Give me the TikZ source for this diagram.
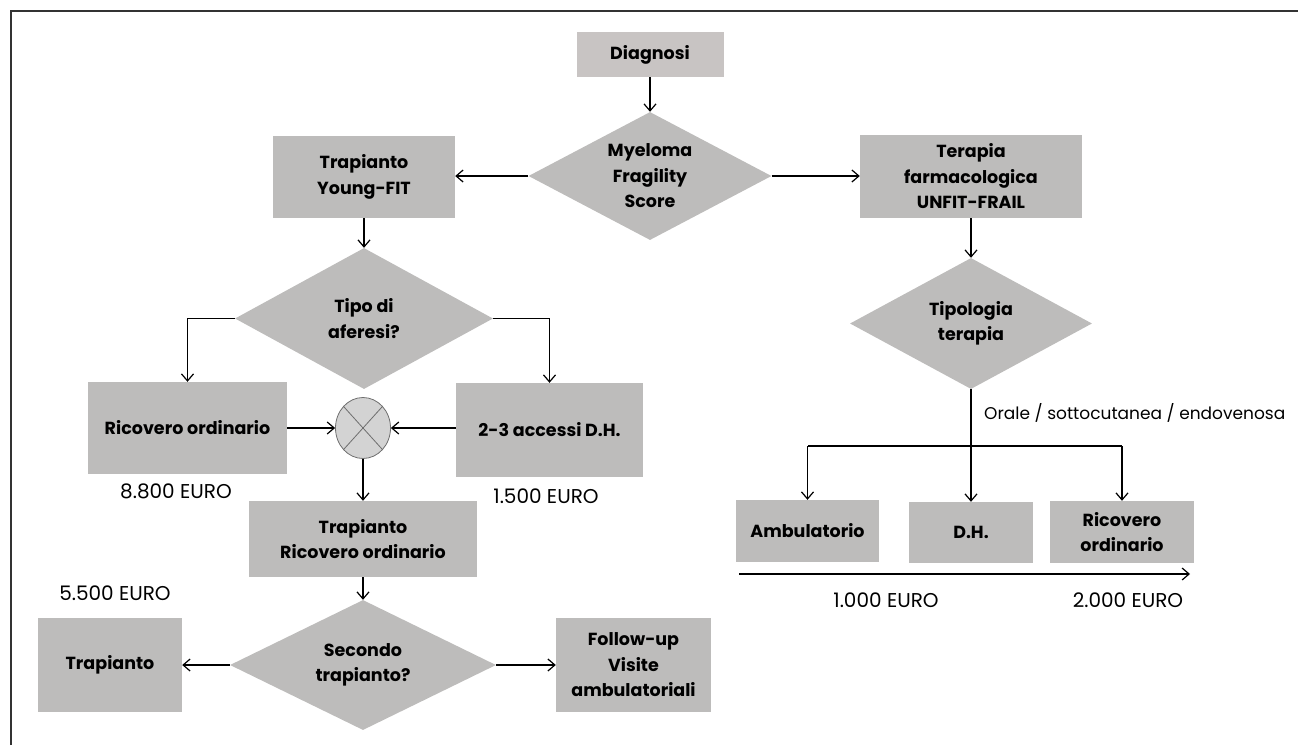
\documentclass[tikz,border=0pt]{standalone}
\usepackage{fontspec}
\setmainfont{Poppins}
\usetikzlibrary{shapes.geometric,arrows.meta}

\definecolor{boxgray}{HTML}{BDBCBB}
\definecolor{diaggray}{HTML}{C8C4C3}
\definecolor{sumgray}{HTML}{D3D3D3}
\definecolor{rimgray}{HTML}{6E6E6E}
\definecolor{framegray}{HTML}{333333}

\begin{document}
\begin{tikzpicture}[x=1pt,y=-1pt,
    >={Straight Barb[length=7pt,width=12pt]},
    flow/.style={->, line width=1.2pt},
    cost/.style={font=\fontsize{20}{24}\selectfont}]

        \useasboundingbox (0,0) rectangle (1298,745);
        \draw[framegray, line width=1.5pt] (11,745) -- (11,11) -- (1298,11);

        \begin{scope}[every node/.style={rectangle, fill=boxgray, align=center, inner sep=0pt,
            font=\bfseries\fontsize{17.5}{25.5}\selectfont}]
          \node[fill=diaggray, minimum width=147pt, minimum height=45pt] (diag) at (650,54.5) {Diagnosi};
          \node[minimum width=182pt, minimum height=82pt] (youngfit) at (364,177) {Trapianto\\Young-FIT};
          \node[minimum width=222pt, minimum height=83pt] (terapia) at (971,176.5) {Terapia\\farmacologica\\UNFIT-FRAIL};
          \node[minimum width=199pt, minimum height=92pt] (ricov1) at (187.5,428) {Ricovero ordinario};
          \node[minimum width=187pt, minimum height=94pt] (dh23) at (549.5,430) {2-3 accessi D.H.};
          \node[minimum width=228pt, minimum height=76pt] (trapro) at (363,539) {Trapianto\\Ricovero ordinario};
          \node[minimum width=144pt, minimum height=94pt] (trap) at (110,665) {Trapianto};
          \node[minimum width=155pt, minimum height=94pt] (follow) at (633.5,665) {Follow-up\\Visite\\ambulatoriali};
          \node[minimum width=143pt, minimum height=62pt] (ambul) at (807.5,531) {Ambulatorio};
          \node[minimum width=124pt, minimum height=61pt] (dh) at (971,532.5) {D.H.};
          \node[minimum width=144pt, minimum height=62pt] (ricov2) at (1122,532) {Ricovero\\ordinario};
        \end{scope}

        \begin{scope}[every node/.style={diamond, fill=boxgray, align=center, inner sep=0pt,
            font=\bfseries\fontsize{17.5}{25.5}\selectfont}]
          \node[minimum width=243pt, minimum height=128pt, aspect=1.9] (myeloma) at (650,176) {Myeloma\\Fragility\\Score};
          \node[minimum width=258pt, minimum height=141pt, aspect=1.83] (tipo) at (364,318.5) {Tipo di\\aferesi?};
          \node[minimum width=266pt, minimum height=130pt, aspect=2] (secondo) at (363,665) {Secondo\\trapianto?};
          \node[minimum width=242pt, minimum height=131pt, aspect=1.85] (tipologia) at (971,323.5) {Tipologia\\terapia};
        \end{scope}

        \node[ellipse, draw=rimgray, fill=sumgray, line width=0.8pt, minimum width=55pt,
          minimum height=61pt, inner sep=0pt] (sum) at (363,428) {};
        \draw[rimgray, line width=0.8pt] (sum.north west) -- (sum.south east)
          (sum.north east) -- (sum.south west);

        \coordinate (branch) at (971,446);
        \coordinate (axl) at (739,574);
        \coordinate (axr) at (1190,574);

        \node[font=\fontsize{17}{20}\selectfont, anchor=west, inner sep=0pt] (via) at (984,413) {Orale / sottocutanea / endovenosa};
        \node[cost] (c8800) at (176,491) {8.800 EURO};
        \node[cost] (c1500) at (546,496) {1.500 EURO};
        \node[cost] (c5500) at (115,593) {5.500 EURO};
        \node[cost] (c1000) at (886,600) {1.000 EURO};
        \node[cost] (c2000) at (1128,600) {2.000 EURO};

        % left column
        \draw[flow] (diag) -- (myeloma);
        \draw[flow] (myeloma.west) -- (myeloma.west -| youngfit.east);
        \draw[flow] (myeloma.east) -- (myeloma.east -| terapia.west);
        \draw[flow] (youngfit) -- (tipo);
        \draw[flow] (tipo.west) -| (ricov1.north);
        \draw[flow] (tipo.east) -| (dh23.north);
        \draw[flow] (ricov1.east |- sum.west) -- (sum.west);
        \draw[flow] (dh23.west |- sum.east) -- (sum.east);
        \draw[flow] (sum) -- (trapro);
        \draw[flow] (trapro) -- (secondo);
        \draw[flow] (secondo.west) -- (secondo.west -| trap.east);
        \draw[flow] (secondo.east) -- (secondo.east -| follow.west);

        % right column
        \draw[flow] (terapia) -- (tipologia);
        \draw[flow] (tipologia) -- (dh);
        \draw[line width=1.2pt] (branch) -- (branch -| ambul.north);
        \draw[line width=1.2pt] (branch) -- (branch -| ricov2.north);
        \draw[flow] (branch -| ambul.north) -- (ambul);
        \draw[flow] (branch -| ricov2.north) -- (ricov2);
        \draw[flow] (axl) -- (axr);

      \end{tikzpicture}
\end{document}
